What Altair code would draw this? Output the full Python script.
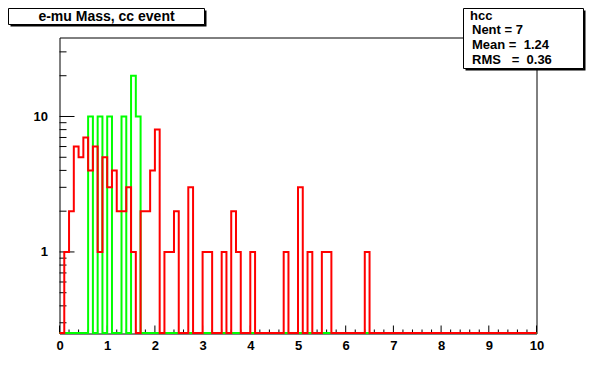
import altair as alt
import pandas as pd

# ---------------- data ----------------
EDGES = [round(0.1 * i, 1) for i in range(101)]          # bin edges 0.0 .. 10.0
RED = [0, 1, 2, 6, 5, 7, 4, 6, 1, 5,
       3, 4, 2, 2, 3, 1, 0, 2, 2, 4,
       8, 0, 1, 1, 2, 0, 0, 3, 0, 0,
       1, 1, 0, 0, 1, 0, 2, 1, 0, 0,
       1, 0, 0, 0, 0, 0, 0, 1, 0, 0,
       3, 0, 1, 0, 0, 1, 1, 0, 0, 0,
       0, 0, 0, 0, 1, 0, 0, 0, 0, 0,
       0, 0, 0, 0, 0, 0, 0, 0, 0, 0,
       0, 0, 0, 0, 0, 0, 0, 0, 0, 0,
       0, 0, 0, 0, 0, 0, 0, 0, 0, 0]
GREEN = [0, 0, 0, 0, 0, 0, 10, 0, 10, 0,
         10, 0, 0, 10, 0, 20, 10, 0, 0, 0,
         0, 0, 0, 0, 0, 0, 0, 0, 0, 0,
         0, 0, 0, 0, 0, 0, 0, 0, 0, 0,
         0, 0, 0, 0, 0, 0, 0, 0, 0, 0,
         0, 0, 0, 0, 0, 0, 0, 0, 0, 0,
         0, 0, 0, 0, 0, 0, 0, 0, 0, 0,
         0, 0, 0, 0, 0, 0, 0, 0, 0, 0,
         0, 0, 0, 0, 0, 0, 0, 0, 0, 0,
         0, 0, 0, 0, 0, 0, 0, 0, 0, 0]

X_MAJOR = [0, 1, 2, 3, 4, 5, 6, 7, 8, 9, 10]
X_MINOR = [round(0.2 * i, 1) for i in range(51) if i % 5]
Y_MAJOR = [1, 10]
Y_MINOR = [0.3, 0.4, 0.5, 0.6, 0.7, 0.8, 0.9, 2, 3, 4, 5, 6, 7, 8, 9, 20, 30]

TITLE = "e-mu Mass, cc event"
STATS_NAME = "hcc"
STATS_LINES = ["Nent = 7",
               "Mean\u00a0=\u00a0\u00a01.24",
               "RMS\u00a0\u00a0\u00a0=\u00a0\u00a00.36"]

Y_MIN, Y_MAX = 0.25, 38.3
Y_FLOOR = 0.2521          # where empty bins are drawn (the bottom edge)
W, H = 477, 296
FONT = "Liberation Sans"


def hist_frame(vals):
    return pd.DataFrame({"edge": EDGES, "v": vals + [vals[-1]]})


xs = alt.Scale(domain=[0, 10], nice=False, zero=False)
ys = alt.Scale(type="log", domain=[Y_MIN, Y_MAX], nice=False)
one = pd.DataFrame({"a": [0]})

XAX = alt.Axis(values=X_MAJOR, tickSize=0, domain=False, grid=False, title=None,
               labelFont=FONT, labelFontSize=13, labelFontWeight="bold",
               labelColor="black", labelPadding=6, labelFlush=False,
               labelOverlap=False, format="d")
YAX = alt.Axis(values=Y_MAJOR, tickSize=0, domain=False, grid=False, title=None,
               labelFont=FONT, labelFontSize=13, labelFontWeight="bold",
               labelColor="black", labelPadding=12, labelFlush=False,
               labelOverlap=False, format="d")


def hist_layer(vals, color):
    return (alt.Chart(hist_frame(vals))
            .transform_calculate(yc=f"max(datum.v, {Y_FLOOR})")
            .mark_line(interpolate="step-after", color=color, strokeWidth=2, clip=False)
            .encode(x=alt.X("edge:Q", scale=xs, axis=XAX),
                    y=alt.Y("yc:Q", scale=ys, axis=YAX)))


def xticks(vals, length):
    return (alt.Chart(pd.DataFrame({"edge": vals}))
            .mark_rule(color="black", strokeWidth=1)
            .encode(x=alt.X("edge:Q", scale=xs, axis=XAX),
                    y=alt.value(H), y2=alt.value(H - length)))


def yticks(vals, length):
    return (alt.Chart(pd.DataFrame({"yc": vals}))
            .mark_rule(color="black", strokeWidth=1)
            .encode(y=alt.Y("yc:Q", scale=ys, axis=YAX),
                    x=alt.value(0), x2=alt.value(length)))


def box(x1, y1, x2, y2, shadow=2):
    sh = (alt.Chart(one).mark_rect(fill="black", strokeWidth=0)
          .encode(x=alt.value(x1 + shadow), x2=alt.value(x2 + shadow),
                  y=alt.value(y1 + shadow), y2=alt.value(y2 + shadow)))
    bx = (alt.Chart(one).mark_rect(fill="white", stroke="black", strokeWidth=1)
          .encode(x=alt.value(x1), x2=alt.value(x2),
                  y=alt.value(y1), y2=alt.value(y2)))
    return [sh, bx]


def txt(s, x, y, size=13, align="left"):
    return (alt.Chart(one)
            .mark_text(text=s, align=align, baseline="middle", font=FONT,
                       fontSize=size, fontWeight="bold", color="black")
            .encode(x=alt.value(x), y=alt.value(y)))


layers = [
    xticks(X_MAJOR, 8),
    xticks(X_MINOR, 4),
    yticks(Y_MAJOR, 15),
    yticks(Y_MINOR, 7),
    hist_layer(GREEN, "#00ff00"),
    hist_layer(RED, "#ff0000"),
]
layers += box(-51, -29, 145, -13)
layers.append(txt(TITLE, 47, -21, size=14, align="center"))
layers += box(404, -29, 524, 31)
layers.append(txt(STATS_NAME, 410.5, -22))
for s, yy in zip(STATS_LINES, [-7.5, 7, 22]):
    layers.append(txt(s, 412.5, yy))

chart = (alt.layer(*layers)
         .properties(width=W, height=H, autosize="none",
                     padding={"left": 51.5, "top": 29.5, "right": 51, "bottom": 28},
                     background="white")
         .configure_view(stroke="black", strokeWidth=1))

chart.save("out.html", embed_options={"renderer": "svg", "actions": False})
